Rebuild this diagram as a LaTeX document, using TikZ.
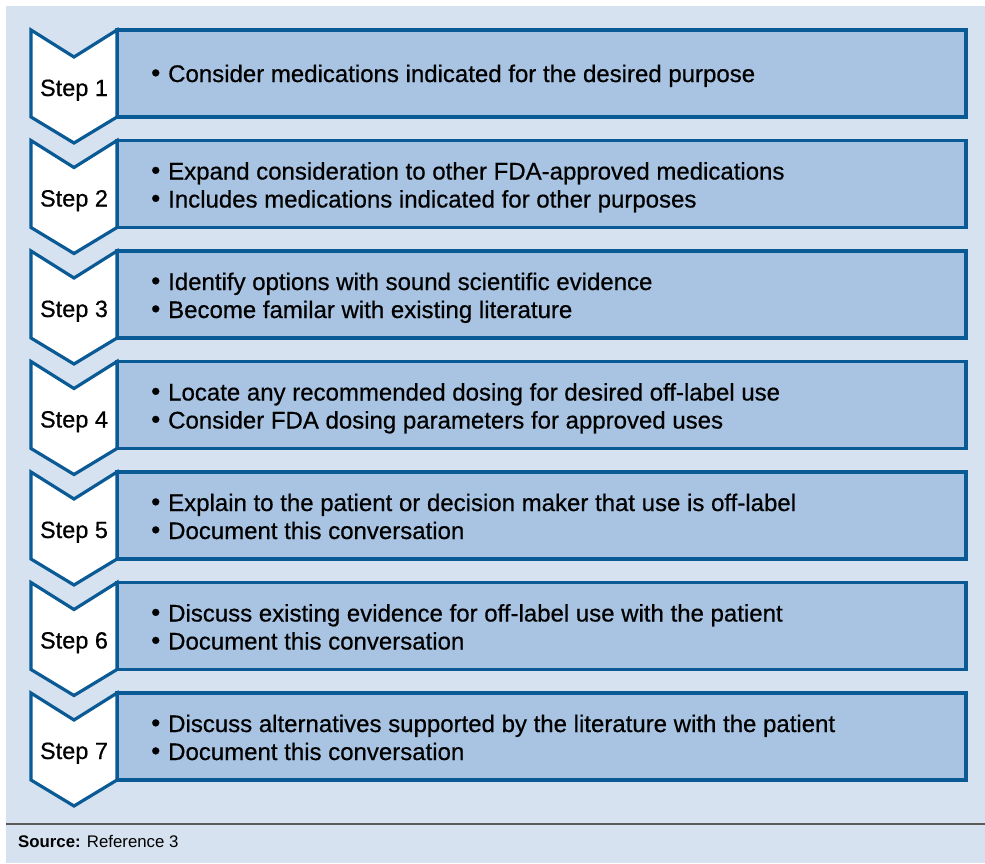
\documentclass[tikz,border=0pt]{standalone}
\usepackage{fontspec}
\setmainfont{Liberation Sans}
\definecolor{bgblue}{HTML}{D6E2F0}
\definecolor{boxblue}{HTML}{A8C4E2}
\definecolor{edgeblue}{HTML}{0A5A96}
\definecolor{rulegray}{HTML}{5A5A5A}
\newfontfamily\medfont[FakeBold=0.6]{Liberation Sans}
\tikzset{
  stepbox/.style={fill=boxblue, draw=edgeblue, line width=3.2pt},
  chevron/.style={fill=white, draw=edgeblue, line width=3.2pt, line join=miter},
  bullettext/.style={anchor=base west, inner sep=0pt, font=\medfont\fontsize{24}{28}\selectfont},
  steplabel/.style={anchor=base, inner sep=0pt, font=\medfont\fontsize{23.5}{28}\selectfont},
}
\newcommand{\bul}{\makebox[17pt][l]{\raisebox{0.5pt}{\fontsize{26}{28}\selectfont •}}}
\newcommand{\stepitem}[2]{% #1 index, #2 top y
  \draw[stepbox] (117,#2) rectangle (966,#2+87);
  \draw[chevron] (31,#2) -- (74,#2+27) -- (117,#2) -- (117,#2+87) -- (74,#2+113) -- (31,#2+87) -- cycle;
  \node[steplabel] (s#1) at (74,#2+66) {Step #1};
}
\begin{document}
\begin{tikzpicture}[x=1pt,y=-1pt]
\useasboundingbox (0,0) rectangle (985,863);
\fill[bgblue] (6,6) rectangle (985,863);
\draw[rulegray, line width=1.5pt] (6,824) -- (985,824);
\node[anchor=base west, inner sep=0pt, font=\fontsize{16.8}{19}\selectfont] (src) at (18,847) {\textbf{Source:} Reference 3};

\stepitem{1}{30}
\node[bullettext] (t1a) at (151,82) {\bul Consider medications indicated for the desired purpose};

\stepitem{2}{140.5}
\node[bullettext] (t2a) at (151,179.5) {\bul Expand consideration to other FDA-approved medications};
\node[bullettext] (t2b) at (151,207.5) {\bul Includes medications indicated for other purposes};

\stepitem{3}{251}
\node[bullettext] (t3a) at (151,290) {\bul Identify options with sound scientific evidence};
\node[bullettext] (t3b) at (151,318) {\bul Become familar with existing literature};

\stepitem{4}{361.5}
\node[bullettext] (t4a) at (151,400.5) {\bul Locate any recommended dosing for desired off-label use};
\node[bullettext] (t4b) at (151,428.5) {\bul Consider FDA dosing parameters for approved uses};

\stepitem{5}{472}
\node[bullettext] (t5a) at (151,511) {\bul Explain to the patient or decision maker that use is off-label};
\node[bullettext] (t5b) at (151,539) {\bul Document this conversation};

\stepitem{6}{582.5}
\node[bullettext] (t6a) at (151,621.5) {\bul Discuss existing evidence for off-label use with the patient};
\node[bullettext] (t6b) at (151,649.5) {\bul Document this conversation};

\stepitem{7}{693}
\node[bullettext] (t7a) at (151,732) {\bul Discuss alternatives supported by the literature with the patient};
\node[bullettext] (t7b) at (151,760) {\bul Document this conversation};
\end{tikzpicture}
\end{document}
